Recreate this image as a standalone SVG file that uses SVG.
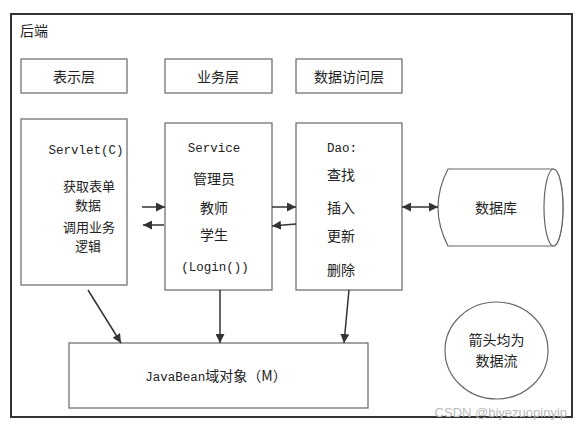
<svg xmlns="http://www.w3.org/2000/svg" width="579" height="429" viewBox="0 0 579 429">
<style>
.box{fill:#fff;stroke:#666;stroke-width:1.2}
.t{font-family:"Noto Sans CJK SC","Liberation Sans",sans-serif;font-size:14px;fill:#222;text-anchor:middle;dominant-baseline:central}
.s{font-size:13px}
.m{font-family:"Liberation Mono","Noto Sans CJK SC",monospace;font-size:12.5px;fill:#222;text-anchor:middle;dominant-baseline:central}
.l{text-anchor:start}
.c{stroke:#333;stroke-width:1.5;fill:none}
</style>
<defs>
<marker id="ah" viewBox="0 0 10 10" refX="10" refY="5" markerWidth="9" markerHeight="9" markerUnits="userSpaceOnUse" orient="auto-start-reverse">
<path d="M0,0 L10,5 L0,10 z" fill="#333"/>
</marker>
</defs>
<rect x="0" y="0" width="579" height="429" fill="#fff"/>
<g id="frame">
<rect x="11" y="14" width="561" height="403" fill="none" stroke="#333" stroke-width="2"/>
<text class="t l" x="20" y="30">后端</text>
</g>
<g id="h1"><rect class="box" x="21" y="59" width="106" height="34"/><text class="t" x="74" y="76">表示层</text></g>
<g id="h2"><rect class="box" x="165" y="59" width="107" height="34"/><text class="t" x="218" y="76">业务层</text></g>
<g id="h3"><rect class="box" x="296" y="59" width="106" height="34"/><text class="t" x="349" y="76">数据访问层</text></g>
<g id="servlet"><rect class="box" x="21" y="119" width="106" height="166"/>
<text class="m" x="86" y="151">Servlet(C)</text>
<text class="t s" x="89" y="185">获取表单</text>
<text class="t s" x="88" y="204">数据</text>
<text class="t s" x="89" y="226">调用业务</text>
<text class="t s" x="88" y="245">逻辑</text>
</g>
<g id="service"><rect class="box" x="165" y="123" width="107" height="167"/>
<text class="m" x="214" y="149">Service</text>
<text class="t" x="214" y="178">管理员</text>
<text class="t" x="214" y="207">教师</text>
<text class="t" x="214" y="234">学生</text>
<text class="m" x="215" y="268">(Login())</text>
</g>
<g id="dao"><rect class="box" x="296" y="123" width="106" height="167"/>
<text class="m l" x="327" y="149">Dao:</text>
<text class="t l" x="327" y="174">查找</text>
<text class="t l" x="327" y="207">插入</text>
<text class="t l" x="327" y="235">更新</text>
<text class="t l" x="327" y="269">删除</text>
</g>
<g id="db">
<path class="box" d="M448,169 L553.5,169 A9.5,38.5 0 0 1 553.5,246 L448,246 Q428,207.5 448,169 Z"/>
<ellipse class="box" cx="553.5" cy="207.5" rx="9.5" ry="38.5"/>
<text class="t" x="496" y="207">数据库</text>
</g>
<g id="javabean"><rect class="box" x="69" y="343" width="299" height="65"/>
<text x="216" y="381" font-family="Noto Sans CJK SC,sans-serif" font-size="14" fill="#222" text-anchor="middle"><tspan font-family="Liberation Mono,monospace" font-size="12.5">JavaBean</tspan>域对象（M）</text>
</g>
<g id="note"><ellipse class="box" cx="496.5" cy="350.5" rx="51.5" ry="48.5"/>
<text class="t" x="496.5" y="339">箭头均为</text>
<text class="t" x="496.5" y="360">数据流</text>
</g>
<g id="connectors">
<line class="c" x1="142" y1="207" x2="165" y2="207" marker-end="url(#ah)"/>
<line class="c" x1="164" y1="225" x2="143" y2="225" marker-end="url(#ah)"/>
<line class="c" x1="272" y1="207" x2="296" y2="207" marker-end="url(#ah)"/>
<line class="c" x1="296" y1="224" x2="272" y2="226" marker-end="url(#ah)"/>
<line class="c" x1="402" y1="207" x2="438" y2="207" marker-start="url(#ah)" marker-end="url(#ah)"/>
<line class="c" x1="88" y1="290" x2="121" y2="343" marker-end="url(#ah)"/>
<line class="c" x1="220" y1="290" x2="220" y2="343" marker-end="url(#ah)"/>
<line class="c" x1="349" y1="290" x2="344" y2="343" marker-end="url(#ah)"/>
</g>
<text x="567" y="412" font-family="Liberation Sans,sans-serif" font-size="13" fill="#bbb" text-anchor="end" dominant-baseline="central">CSDN @biyezuopinyip</text>
</svg>
